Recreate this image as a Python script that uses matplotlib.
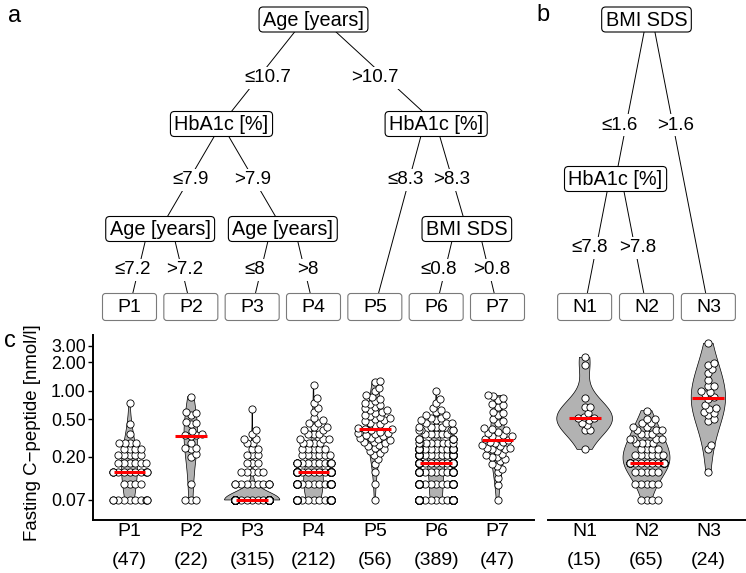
import numpy as np
import matplotlib.pyplot as plt
from matplotlib.patches import FancyBboxPatch

plt.rcParams['font.family'] = ['Liberation Sans', 'DejaVu Sans']

# fasting C-peptide [nmol/l] per terminal node (levels + counts for the dense groups)
p1_val = [0.07, 0.104, 0.139, 0.174, 0.208, 0.243, 0.278, 0.347, 0.44, 0.74]
p1_cnt = [10, 4, 11, 6, 5, 4, 4, 1, 1, 1]
p2 = [0.07, 0.07, 0.07, 0.104, 0.2, 0.214, 0.24, 0.25, 0.25, 0.28, 0.33, 0.34, 0.34,
      0.35, 0.376, 0.445, 0.46, 0.47, 0.56, 0.58, 0.59, 0.865]
p3_val = [0.07, 0.104, 0.139, 0.174, 0.208, 0.243, 0.278, 0.312, 0.347, 0.382, 0.64]
p3_cnt = [285, 10, 5, 3, 3, 2, 2, 2, 1, 1, 1]
p4_val = [0.07, 0.104, 0.139, 0.174, 0.208, 0.243, 0.278, 0.312, 0.347, 0.382, 0.417,
          0.451, 0.486, 0.521, 0.6, 0.65, 0.75, 0.83, 1.15]
p4_cnt = [60, 42, 61, 15, 6, 5, 4, 3, 3, 2, 2, 2, 1, 1, 1, 1, 1, 1, 1]
p5 = [1.28, 1.24, 1.08, 1.0, 0.9, 0.86, 0.82, 0.77, 0.75, 0.72, 0.7, 0.67, 0.65, 0.63,
      0.62, 0.6, 0.58, 0.56, 0.54, 0.53, 0.52, 0.5, 0.49, 0.48, 0.46, 0.45, 0.43, 0.4,
      0.39, 0.39, 0.38, 0.37, 0.36, 0.36, 0.35, 0.34, 0.33, 0.32, 0.32, 0.31, 0.3, 0.29,
      0.286, 0.28, 0.27, 0.26, 0.25, 0.24, 0.23, 0.22, 0.21, 0.19, 0.17, 0.139, 0.104, 0.07]
p6_val = [0.07, 0.104, 0.139, 0.174, 0.208, 0.243, 0.278, 0.312, 0.347, 0.382, 0.417,
          0.451, 0.486, 0.521, 0.556, 0.59, 0.625, 0.66, 0.75, 0.82, 1.0]
p6_cnt = [90, 55, 48, 55, 52, 45, 8, 7, 5, 5, 4, 3, 2, 2, 2, 1, 1, 1, 1, 1, 1]
p7 = [0.89, 0.87, 0.83, 0.8, 0.72, 0.7, 0.68, 0.6, 0.58, 0.56, 0.5, 0.48, 0.46, 0.4,
      0.39, 0.38, 0.37, 0.36, 0.34, 0.33, 0.33, 0.32, 0.31, 0.3, 0.29, 0.29, 0.28, 0.27,
      0.26, 0.25, 0.25, 0.24, 0.24, 0.23, 0.214, 0.21, 0.2, 0.2, 0.19, 0.179, 0.17, 0.16,
      0.15, 0.139, 0.12, 0.1, 0.07]
n1 = [0.24, 0.38, 0.38, 0.43, 0.46, 0.49, 0.51, 0.51, 0.53, 0.58, 0.67, 0.67, 0.83, 1.87, 2.25]
n2_val = [0.07, 0.104, 0.139, 0.174, 0.208, 0.243, 0.278, 0.312, 0.347, 0.382, 0.417, 0.451, 0.5, 0.615]
n2_cnt = [4, 5, 5, 20, 6, 4, 4, 4, 3, 3, 2, 2, 2, 1]
n3 = [0.137, 0.24, 0.27, 0.48, 0.5, 0.56, 0.58, 0.6, 0.64, 0.66, 0.7, 0.82, 0.86, 0.92,
      0.98, 1.0, 1.12, 1.12, 1.3, 1.53, 1.69, 1.88, 1.95, 3.17]

p_names = ['P1', 'P2', 'P3', 'P4', 'P5', 'P6', 'P7']
n_names = ['N1', 'N2', 'N3']
p_data = [np.repeat(p1_val, p1_cnt), np.array(p2), np.repeat(p3_val, p3_cnt),
          np.repeat(p4_val, p4_cnt), np.array(p5), np.repeat(p6_val, p6_cnt), np.array(p7)]
n_data = [np.array(n1), np.repeat(n2_val, n2_cnt), np.array(n3)]

y_ticks = [0.07, 0.2, 0.5, 1, 2, 3]
y_ticklabels = ['0.07', '0.20', '0.50', '1.00', '2.00', '3.00']

# decision trees (split variable, [(edge label, child), ...]); leaves are node names
tree_a = ('Age [years]', [
    ('≤10.7', ('HbA1c [%]', [
        ('≤7.9', ('Age [years]', [('≤7.2', 'P1'), ('>7.2', 'P2')])),
        ('>7.9', ('Age [years]', [('≤8', 'P3'), ('>8', 'P4')])),
    ])),
    ('>10.7', ('HbA1c [%]', [
        ('≤8.3', 'P5'),
        ('>8.3', ('BMI SDS', [('≤0.8', 'P6'), ('>0.8', 'P7')])),
    ])),
])
tree_b = ('BMI SDS', [
    ('≤1.6', ('HbA1c [%]', [('≤7.8', 'N1'), ('>7.8', 'N2')])),
    ('>1.6', 'N3'),
])

W, H = 746, 573
fig = plt.figure(figsize=(W / 100, H / 100), dpi=100)


def box(x0, y0, x1, y1):
    return [x0 / W, 1 - y1 / H, (x1 - x0) / W, (y1 - y0) / H]


ax_p = fig.add_axes(box(92.7, 335, 534.3, 520))
ax_n = fig.add_axes(box(547.5, 335, 745.5, 520))


def nrd0(z):
    q75, q25 = np.percentile(z, [75, 25])
    lo = min(z.std(ddof=1), (q75 - q25) / 1.34)
    if lo <= 0:
        lo = z.std(ddof=1)
    return 0.9 * lo * len(z) ** -0.2


def swarm(ypx, d):
    xs, py, px = [], [], []
    for y in ypx:
        x = 0.0
        if py:
            ay, ax_ = np.array(py), np.array(px)
            near = np.abs(ay - y) < d
            if near.any():
                nx, dy = ax_[near], ay[near] - y
                off = np.sqrt(d * d - dy * dy)
                cand = np.concatenate([[0.0], nx + off, nx - off])
                dist2 = (cand[:, None] - nx[None, :]) ** 2 + dy[None, :] ** 2
                ok = (dist2 >= d * d - 1e-6).all(axis=1)
                cand = cand[ok]
                x = cand[np.argmin(np.abs(cand))]
        xs.append(x)
        py.append(y)
        px.append(x)
    return np.array(xs)


def panel(ax, names, data, adjust=2.2):
    ax.set_yscale('log')
    ax.set_xlim(0.4, len(names) + 0.6)
    ax.set_ylim(0.0430, 3.88)
    dens = []
    for v in data:
        z = np.log10(v)
        g = np.linspace(z.min(), z.max(), 512)
        bw = nrd0(z) * adjust
        d = np.exp(-0.5 * ((g[:, None] - z[None, :]) / bw) ** 2).sum(1) / (len(z) * bw * np.sqrt(2 * np.pi))
        dens.append((g, d))
    dmax = max(d.max() for g, d in dens)
    xpx = ax.transData.transform((1, 1))[0] - ax.transData.transform((0, 1))[0]
    for i, (v, (g, d)) in enumerate(zip(data, dens)):
        xc = i + 1
        hw = d / dmax * 0.45
        yy = 10 ** g
        ax.fill(np.concatenate([xc - hw, (xc + hw)[::-1]]), np.concatenate([yy, yy[::-1]]),
                fc='#b2b2b2', ec='black', lw=0.5, zorder=1)
        vs = np.sort(v)
        ypx = ax.transData.transform(np.column_stack([np.full(len(vs), xc), vs]))[:, 1]
        dx = np.clip(swarm(ypx, 5.6), -17, 17) / xpx
        ax.scatter(xc + dx, vs, s=27, fc='white', ec='black', lw=0.6, zorder=2)
        ax.hlines(np.median(v), xc - 0.26, xc + 0.26, color='red', lw=2.2, zorder=3)
    ax.set_xticks(range(1, len(names) + 1))
    ax.set_xticklabels([f'{nm}\n({len(v)})' for nm, v in zip(names, data)], linespacing=1.85)
    ax.tick_params(axis='x', length=0, pad=2.5, labelsize=14)
    ax.minorticks_off()
    for s in ['top', 'right']:
        ax.spines[s].set_visible(False)
    ax.spines['bottom'].set_linewidth(1.4)
    ax.spines['left'].set_linewidth(1.4)


panel(ax_p, p_names, p_data)
panel(ax_n, n_names, n_data)
ax_p.set_yticks(y_ticks)
ax_p.set_yticklabels(y_ticklabels)
ax_p.tick_params(axis='y', length=3.5, width=1.0, pad=1.5, labelsize=12.8)
ax_n.spines['left'].set_visible(False)
ax_n.set_yticks([])
fig.text(33 / W, 1 - 433 / H, 'Fasting C−peptide [nmol/l]', rotation=90,
         ha='center', va='center', fontsize=13.4)

# trees, drawn in pixel coordinates
ax_t = fig.add_axes([0, 0, 1, 1], zorder=-1)
ax_t.set_xlim(0, W)
ax_t.set_ylim(H, 0)
ax_t.axis('off')
renderer = fig.canvas.get_renderer()

leaf_x = {}
for ax, names in [(ax_p, p_names), (ax_n, n_names)]:
    for i, nm in enumerate(names):
        leaf_x[nm] = ax.transData.transform((i + 1, 1))[0]
leaf_y = 307


def leaves(node):
    if isinstance(node, str):
        return [node]
    return [lf for _, ch in node[1] for lf in leaves(ch)]


def draw(node, depth, lay):
    if isinstance(node, str):
        x = leaf_x[node]
        ax_t.add_patch(FancyBboxPatch((x - 27, leaf_y - 13.5), 54, 27,
                                      boxstyle='round,pad=0,rounding_size=3',
                                      fc='white', ec='#7a7a7a', lw=0.8, zorder=2))
        ax_t.text(x, leaf_y + 1, node, ha='center', va='center', fontsize=14, zorder=3)
        return x, leaf_y
    lv = leaves(node)
    x = (leaf_x[lv[0]] + leaf_x[lv[-1]]) / 2
    y = lay['levels'][depth]
    t = ax_t.text(x, y + 0.5, node[0], ha='center', va='center', fontsize=14.3, zorder=3)
    w = t.get_window_extent(renderer).width + 8
    ax_t.add_patch(FancyBboxPatch((x - w / 2, y - 12.5), w, 25,
                                  boxstyle='round,pad=0,rounding_size=4',
                                  fc='white', ec='black', lw=0.8, zorder=2))
    for k, (lab, ch) in enumerate(node[1]):
        cx, cy = draw(ch, depth + 1, lay)
        sign = 1 if cx > x else -1
        sx = x + sign * (lay['leaf_spread'] if isinstance(ch, str) else lay['spread'][depth])
        ax_t.plot([sx, cx], [y, cy], color='black', lw=0.7, zorder=1)
        ry = lay['rows'][depth]
        if depth in lay['mid']:
            rx = (x + cx) / 2
        else:
            rx = sx + (cx - sx) * (ry - y) / (cy - y) + (-6 if k == 0 else 3)
        ax_t.text(rx, ry, lab, ha='center', va='center', fontsize=13.5, zorder=3,
                  bbox=dict(fc='white', ec='none', pad=1.5))
    return x, y


draw(tree_a, 0, dict(levels=[19.5, 124, 229], rows=[78, 180, 270], spread=[9, 0],
                     leaf_spread=12, mid={0, 1}))
draw(tree_b, 0, dict(levels=[19.5, 179], rows=[125, 248], spread=[0, 0],
                     leaf_spread=6, mid=set()))

for lab, x, y in [('a', 15, 16), ('b', 543, 15), ('c', 10, 341)]:
    ax_t.text(x, y, lab, ha='center', va='center', fontsize=17)

fig.savefig('out.png', dpi=100)
